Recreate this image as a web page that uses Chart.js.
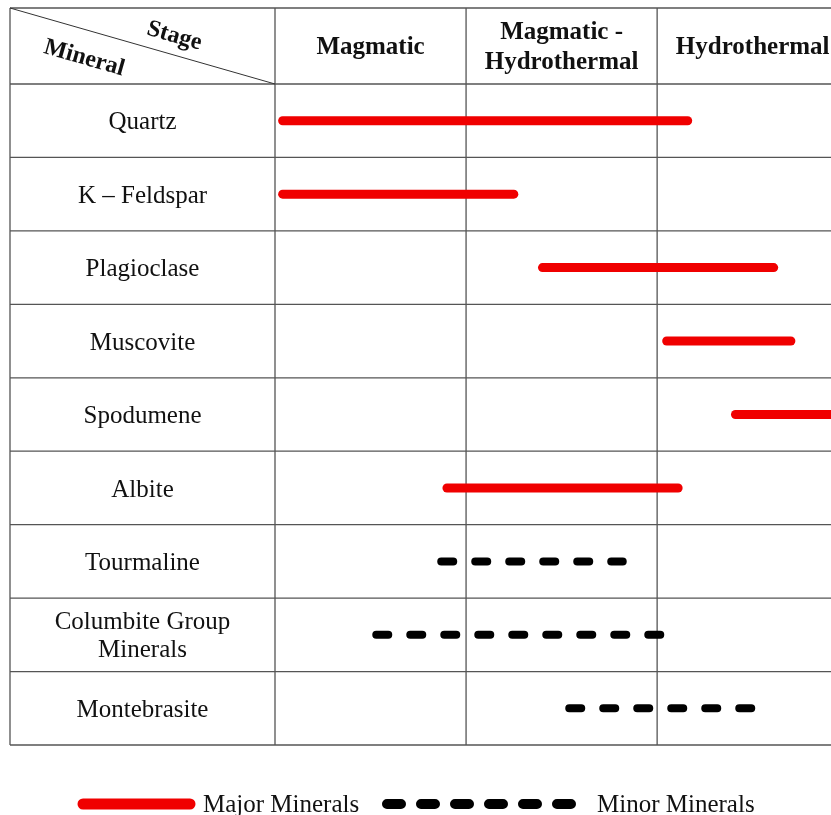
<!DOCTYPE html>
<html>
<head>
<meta charset="utf-8">
<script src="https://cdn.jsdelivr.net/npm/chart.js@4.4.1/dist/chart.umd.min.js"></script>
<style>
  html, body { margin: 0; padding: 0; background: #fff; }
  canvas { display: block; }
</style>
</head>
<body>
<canvas id="chart" width="831" height="815"></canvas>
<script>
// Paragenetic sequence: minerals (rows) against crystallisation stage (columns).
// Each stage spans 100 units on the x scale.
const minerals = ['Quartz', 'K \u2013 Feldspar', 'Plagioclase', 'Muscovite', 'Spodumene',
                  'Albite', 'Tourmaline', 'Columbite Group\nMinerals', 'Montebrasite'];
const rangeStart = [4, 4, 140, 205, 241, 90, 87, 53, 154];
const rangeEnd   = [216, 125, 261, 270, 300, 211, 182, 202, 250];
const abundance  = ['major', 'major', 'major', 'major', 'major', 'major', 'minor', 'minor', 'minor'];
const stages = ['Magmatic', 'Magmatic -\nHydrothermal', 'Hydrothermal'];
const legendLabels = ['Major Minerals', 'Minor Minerals'];

const STAGE_SPAN = 100;
const X_MAX = 291;   // the Hydrothermal column runs off the page edge

const styles = {
  major: { color: '#f00000', width: 9, dash: [] },
  minor: { color: '#000000', width: 8, dash: [12, 22] }
};
const SERIF = '"Liberation Serif", "Times New Roman", serif';

const datasets = minerals.map((m, i) => {
  const s = styles[abundance[i]];
  return {
    label: m,
    data: [{ x: rangeStart[i], y: m }, { x: rangeEnd[i], y: m }],
    borderColor: s.color,
    borderWidth: s.width,
    borderDash: s.dash,
    borderCapStyle: 'round',
    pointRadius: 0,
    pointHoverRadius: 0,
    fill: false,
    clip: false,
    tension: 0
  };
});

const tableFrame = {
  id: 'tableFrame',
  beforeDatasetsDraw(chart) {
    const { ctx, chartArea: a, scales: { x, y } } = chart;
    const top = 8, left = 10, right = chart.width;
    const band = (a.bottom - a.top) / minerals.length;
    ctx.save();
    ctx.strokeStyle = '#555';
    ctx.lineWidth = 1.3;
    ctx.beginPath();
    // horizontal rules
    const rows = [top, a.top];
    minerals.forEach((m, i) => rows.push(y.getPixelForValue(i) + band / 2));
    rows.forEach(py => { ctx.moveTo(left, py); ctx.lineTo(right, py); });
    // vertical rules
    ctx.moveTo(left, top); ctx.lineTo(left, a.bottom);
    stages.forEach((s, k) => {
      const px = x.getPixelForValue(k * STAGE_SPAN);
      ctx.moveTo(px, top); ctx.lineTo(px, a.bottom);
    });
    ctx.stroke();
    // diagonal in the corner cell
    ctx.beginPath();
    ctx.lineWidth = 1;
    ctx.strokeStyle = '#333';
    ctx.moveTo(left, top);
    ctx.lineTo(a.left, a.top);
    ctx.stroke();
    ctx.restore();
  },
  afterDatasetsDraw(chart) {
    const { ctx, chartArea: a, scales: { x, y } } = chart;
    const top = 8, left = 10;
    ctx.save();
    ctx.fillStyle = '#111';
    ctx.textAlign = 'center';
    ctx.textBaseline = 'middle';

    // stage headings
    ctx.font = 'bold 25px ' + SERIF;
    const headMid = (top + a.top) / 2 + 1;
    stages.forEach((s, k) => {
      const cx = x.getPixelForValue(k * STAGE_SPAN + STAGE_SPAN / 2);
      const lines = s.split('\n');
      const lh = 30;
      lines.forEach((t, j) => {
        ctx.fillText(t, cx, headMid + 1 + (j - (lines.length - 1) / 2) * lh);
      });
    });

    // corner cell captions, tilted along the diagonal
    const ang = Math.atan2(a.top - top, a.left - left);
    const w = a.left - left, h = a.top - top;
    ctx.font = 'bold 24px ' + SERIF;
    [['Stage', 0.62, 0.37], ['Mineral', 0.28, 0.66]].forEach(([t, fx, fy]) => {
      ctx.save();
      ctx.translate(left + w * fx, top + h * fy);
      ctx.rotate(ang);
      ctx.fillText(t, 0, 0);
      ctx.restore();
    });

    // mineral names
    ctx.font = '25px ' + SERIF;
    const cx = (left + a.left) / 2;
    minerals.forEach((m, i) => {
      const cy = y.getPixelForValue(i) + 2;
      const lines = m.split('\n');
      const lh = 28;
      lines.forEach((t, j) => {
        ctx.fillText(t, cx, cy + (j - (lines.length - 1) / 2) * lh);
      });
    });

    // legend
    const ly = a.bottom + 59;
    const items = [
      { style: styles.major, x0: 83, x1: 190, width: 11, dash: [], tx: 203 },
      { style: styles.minor, x0: 387, x1: 572, width: 10, dash: [14, 20], tx: 597 }
    ];
    ctx.lineCap = 'round';
    items.forEach((it, k) => {
      ctx.beginPath();
      ctx.strokeStyle = it.style.color;
      ctx.lineWidth = it.width;
      ctx.setLineDash(it.dash);
      ctx.moveTo(it.x0, ly);
      ctx.lineTo(it.x1, ly);
      ctx.stroke();
      ctx.setLineDash([]);
      ctx.font = '25px ' + SERIF;
      ctx.textAlign = 'left';
      ctx.fillStyle = '#111';
      ctx.fillText(legendLabels[k], it.tx, ly + 1);
    });
    ctx.restore();
  }
};

new Chart(document.getElementById('chart'), {
  type: 'line',
  data: { datasets },
  options: {
    responsive: false,
    animation: false,
    events: [],
    layout: { padding: { left: 275, top: 84, right: 0, bottom: 70 } },
    scales: {
      x: { type: 'linear', min: 0, max: X_MAX, display: false },
      y: { type: 'category', labels: minerals, offset: true, display: false }
    },
    plugins: { legend: { display: false }, tooltip: { enabled: false } }
  },
  plugins: [tableFrame]
});
</script>
</body>
</html>
